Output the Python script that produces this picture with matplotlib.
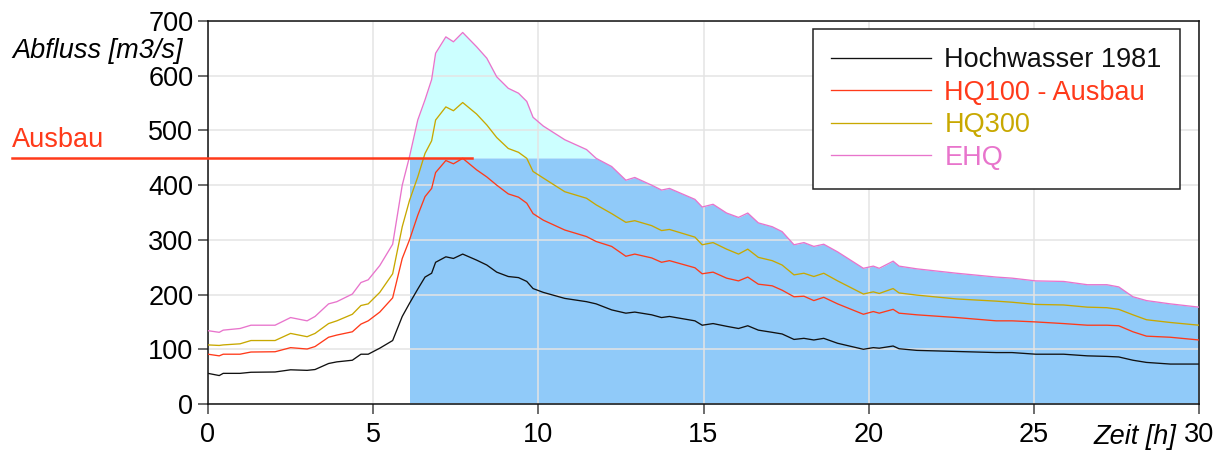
import numpy as np
import matplotlib
matplotlib.use("Agg")
import matplotlib.pyplot as plt

plt.rcParams['font.family'] = ['Liberation Sans', 'DejaVu Sans']

# ---------------- data ----------------
zeit = [0, 0.34, 0.46, 0.97, 1.3, 2.03, 2.5, 3.0, 3.24, 3.65, 3.9, 4.37, 4.63, 4.85,
        5.2, 5.59, 5.88, 6.1, 6.35, 6.57, 6.77, 6.89, 7.2, 7.43, 7.71, 8.13, 8.44,
        8.74, 9.09, 9.4, 9.65, 9.84, 10.15, 10.8, 11.46, 11.75, 12.22, 12.65, 12.92,
        13.43, 13.73, 13.97, 14.74, 14.96, 15.29, 15.7, 16.06, 16.34, 16.66, 17.08,
        17.38, 17.74, 18.04, 18.34, 18.64, 19.06, 19.84, 20.14, 20.32, 20.74, 20.92,
        21.46, 22.66, 23.86, 24.34, 25.06, 25.9, 26.62, 27.21, 27.57, 28.0, 28.41,
        29.13, 30]

hw1981 = [56, 52, 56, 56, 58, 58.5, 62.5, 61.5, 63, 74, 77, 80, 91, 91,
          102, 116, 160, 184, 210, 232, 239, 259, 269, 266, 274, 263, 254,
          241, 233, 231, 224, 211, 204, 193, 187, 183, 172, 166, 168,
          163, 158, 160, 152, 144, 147, 142, 138, 143, 135, 131,
          128, 118, 120, 117, 120, 111, 100, 103, 102, 106, 101,
          98, 96, 94, 94, 91, 91, 88, 87, 86, 80, 76,
          73, 73]

hq100 = [91, 88, 91, 91, 95, 95.5, 103, 100.5, 105, 122, 126, 132, 146, 152,
         168, 194, 266, 300, 345, 379, 394, 423, 445, 439, 449, 428, 415,
         400, 384, 378, 367, 348, 336, 318, 306, 297, 288, 270, 274,
         267, 259, 262, 249, 238, 241, 230, 225, 232, 219, 216,
         208, 196, 197, 189, 195, 183, 164, 169, 166, 173, 166,
         163, 158, 152, 152, 150, 147, 144, 144, 143, 132, 124,
         122, 117]

hq300 = [108, 107, 108, 110, 116, 116, 129, 123, 129, 147, 152, 164, 180, 183,
         204, 238, 324, 372, 415, 458, 481, 519, 543, 536, 551, 530, 510,
         487, 467, 460, 449, 425, 413, 388, 376, 364, 348, 332, 335,
         326, 317, 319, 305, 291, 295, 283, 274, 283, 268, 262,
         254, 236, 239, 233, 239, 225, 201, 205, 202, 211, 203,
         199, 192, 188, 186, 182, 181, 177, 176, 173, 163, 154,
         149, 144]

ehq = [134, 131, 135, 138, 144, 144, 158, 152, 160, 183, 187, 201, 222, 227,
       253, 292, 400, 452, 519, 556, 593, 641, 671, 662, 679, 653, 632,
       598, 577, 568, 553, 524, 508, 483, 465, 449, 434, 409, 414,
       400, 391, 394, 374, 360, 365, 349, 341, 349, 331, 324,
       315, 291, 295, 288, 292, 278, 248, 252, 248, 261, 252,
       247, 239, 232, 230, 225, 224, 218, 218, 214, 196, 189,
       183, 177]

series_labels = ['Hochwasser 1981', 'HQ100 - Ausbau', 'HQ300', 'EHQ']
series_colors = ['#111111', '#FF3A1A', '#C8A800', '#E874CC']

ausbau = 450
ausbau_line_end = 8.0
fill_start = 6.1

xticks = [0, 5, 10, 15, 20, 25, 30]
yticks = [0, 100, 200, 300, 400, 500, 600, 700]

# ---------------- figure ----------------
W, H = 1229, 450
fig = plt.figure(figsize=(W / 100, H / 100), dpi=100)
ax = fig.add_axes([208 / W, 1 - 404 / H, (1199 - 208) / W, (404 - 21) / H])
ax.set_xlim(0, 30)
ax.set_ylim(0, 700)

t = np.array(zeit, dtype=float)
e = np.array(ehq, dtype=float)
mask = t >= fill_start

# blue fill up to the Ausbau level, cyan above it
ax.fill_between(t, 0, np.minimum(e, ausbau), where=mask, color='#90CAF9',
                linewidth=0, zorder=1)
ax.fill_between(t, ausbau, e, where=mask & (e >= ausbau), interpolate=True,
                color='#CCFFFF', linewidth=0, zorder=1)

data = [hw1981, hq100, hq300, ehq]
for vals, lab, col in zip(data, series_labels, series_colors):
    ax.plot(t, vals, color=col, lw=0.95, label=lab, zorder=3)

# Ausbau line, extending into the left margin
x_left = ax.transData.inverted().transform(
    fig.transFigure.transform((12 / W, 0)))[0]
ax.plot([x_left, ausbau_line_end], [ausbau, ausbau], color='#FF3A1A', lw=1.8,
        clip_on=False, zorder=4)

ax.set_xlim(0, 30)
ax.set_ylim(0, 700)
ax.set_xticks(xticks)
ax.set_yticks(yticks)
ax.grid(True, color='#e4e4e4', lw=1.1)
ax.tick_params(direction='out', length=7, width=1.1, color='#444444',
               labelsize=19.5, pad=3.5)
ax.tick_params(axis='x', pad=6)
for sp in ax.spines.values():
    sp.set_color('#111111')
    sp.set_linewidth(1.1)

fs = 19.5
fig.text(12 / W, 1 - 51 / H, 'Abfluss [m3/s]', fontsize=fs, style='italic',
         ha='left', va='center')
fig.text(1176 / W, 1 - 444 / H, 'Zeit [h]', fontsize=fs, style='italic',
         ha='right', va='baseline')
fig.text(12 / W, 1 - 147 / H, 'Ausbau', fontsize=fs, color='#FF3A1A',
         ha='left', va='baseline')

leg = ax.legend(loc='upper right', bbox_to_anchor=(1180 / W, 1 - 29 / H),
                bbox_transform=fig.transFigure, borderaxespad=0,
                fontsize=fs, labelcolor='linecolor', fancybox=False,
                edgecolor='#222222', framealpha=1, handlelength=3.7,
                handletextpad=0.5, labelspacing=0.24, borderpad=0.67)
leg.get_frame().set_linewidth(1.1)

fig.savefig('out.png', dpi=100)
